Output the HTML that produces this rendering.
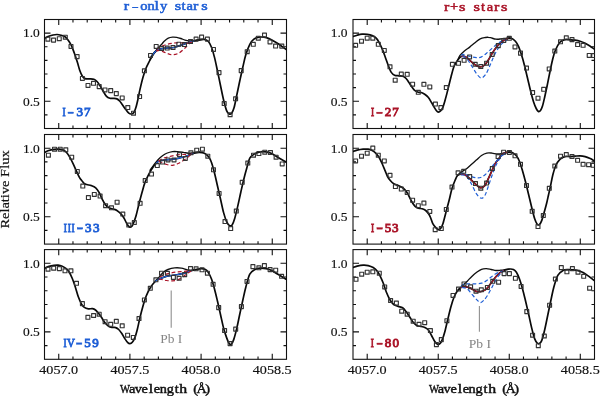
<!DOCTYPE html><html><head><meta charset="utf-8"><style>html,body{margin:0;padding:0;background:#fff;}svg{display:block;will-change:transform;}</style></head><body>
<svg width="600" height="396" viewBox="0 0 600 396">
<rect width="600" height="396" fill="#fff"/>
<path d="M58.74,128.5v-5.6M58.74,19.5v5.6M72.97,128.5v-2.9M72.97,19.5v2.9M87.21,128.5v-2.9M87.21,19.5v2.9M101.44,128.5v-2.9M101.44,19.5v2.9M115.68,128.5v-2.9M115.68,19.5v2.9M129.91,128.5v-5.6M129.91,19.5v5.6M144.15,128.5v-2.9M144.15,19.5v2.9M158.38,128.5v-2.9M158.38,19.5v2.9M172.62,128.5v-2.9M172.62,19.5v2.9M186.85,128.5v-2.9M186.85,19.5v2.9M201.09,128.5v-5.6M201.09,19.5v5.6M215.32,128.5v-2.9M215.32,19.5v2.9M229.56,128.5v-2.9M229.56,19.5v2.9M243.79,128.5v-2.9M243.79,19.5v2.9M258.03,128.5v-2.9M258.03,19.5v2.9M272.26,128.5v-5.6M272.26,19.5v5.6M44.5,114.88h3M286.5,114.88h-3M44.5,101.25h6M286.5,101.25h-6M44.5,87.62h3M286.5,87.62h-3M44.5,74h3M286.5,74h-3M44.5,60.38h3M286.5,60.38h-3M44.5,46.75h3M286.5,46.75h-3M44.5,33.13h6M286.5,33.13h-6" stroke="#111" stroke-width="1.1" fill="none"/>
<rect x="44.5" y="19.5" width="242" height="109" stroke="#111" stroke-width="1.1" fill="none"/>
<path d="M58.74,244.1v-5.6M58.74,134.5v5.6M72.97,244.1v-2.9M72.97,134.5v2.9M87.21,244.1v-2.9M87.21,134.5v2.9M101.44,244.1v-2.9M101.44,134.5v2.9M115.68,244.1v-2.9M115.68,134.5v2.9M129.91,244.1v-5.6M129.91,134.5v5.6M144.15,244.1v-2.9M144.15,134.5v2.9M158.38,244.1v-2.9M158.38,134.5v2.9M172.62,244.1v-2.9M172.62,134.5v2.9M186.85,244.1v-2.9M186.85,134.5v2.9M201.09,244.1v-5.6M201.09,134.5v5.6M215.32,244.1v-2.9M215.32,134.5v2.9M229.56,244.1v-2.9M229.56,134.5v2.9M243.79,244.1v-2.9M243.79,134.5v2.9M258.03,244.1v-2.9M258.03,134.5v2.9M272.26,244.1v-5.6M272.26,134.5v5.6M44.5,230.4h3M286.5,230.4h-3M44.5,216.7h6M286.5,216.7h-6M44.5,203h3M286.5,203h-3M44.5,189.3h3M286.5,189.3h-3M44.5,175.6h3M286.5,175.6h-3M44.5,161.9h3M286.5,161.9h-3M44.5,148.2h6M286.5,148.2h-6" stroke="#111" stroke-width="1.1" fill="none"/>
<rect x="44.5" y="134.5" width="242" height="109.6" stroke="#111" stroke-width="1.1" fill="none"/>
<path d="M58.74,359.3v-5.6M58.74,249.6v5.6M72.97,359.3v-2.9M72.97,249.6v2.9M87.21,359.3v-2.9M87.21,249.6v2.9M101.44,359.3v-2.9M101.44,249.6v2.9M115.68,359.3v-2.9M115.68,249.6v2.9M129.91,359.3v-5.6M129.91,249.6v5.6M144.15,359.3v-2.9M144.15,249.6v2.9M158.38,359.3v-2.9M158.38,249.6v2.9M172.62,359.3v-2.9M172.62,249.6v2.9M186.85,359.3v-2.9M186.85,249.6v2.9M201.09,359.3v-5.6M201.09,249.6v5.6M215.32,359.3v-2.9M215.32,249.6v2.9M229.56,359.3v-2.9M229.56,249.6v2.9M243.79,359.3v-2.9M243.79,249.6v2.9M258.03,359.3v-2.9M258.03,249.6v2.9M272.26,359.3v-5.6M272.26,249.6v5.6M44.5,345.59h3M286.5,345.59h-3M44.5,331.88h6M286.5,331.88h-6M44.5,318.16h3M286.5,318.16h-3M44.5,304.45h3M286.5,304.45h-3M44.5,290.74h3M286.5,290.74h-3M44.5,277.02h3M286.5,277.02h-3M44.5,263.31h6M286.5,263.31h-6" stroke="#111" stroke-width="1.1" fill="none"/>
<rect x="44.5" y="249.6" width="242" height="109.7" stroke="#111" stroke-width="1.1" fill="none"/>
<path d="M367.21,128.5v-5.6M367.21,19.5v5.6M381.41,128.5v-2.9M381.41,19.5v2.9M395.62,128.5v-2.9M395.62,19.5v2.9M409.82,128.5v-2.9M409.82,19.5v2.9M424.03,128.5v-2.9M424.03,19.5v2.9M438.24,128.5v-5.6M438.24,19.5v5.6M452.44,128.5v-2.9M452.44,19.5v2.9M466.65,128.5v-2.9M466.65,19.5v2.9M480.85,128.5v-2.9M480.85,19.5v2.9M495.06,128.5v-2.9M495.06,19.5v2.9M509.26,128.5v-5.6M509.26,19.5v5.6M523.47,128.5v-2.9M523.47,19.5v2.9M537.68,128.5v-2.9M537.68,19.5v2.9M551.88,128.5v-2.9M551.88,19.5v2.9M566.09,128.5v-2.9M566.09,19.5v2.9M580.29,128.5v-5.6M580.29,19.5v5.6M353,114.88h3M594.5,114.88h-3M353,101.25h6M594.5,101.25h-6M353,87.62h3M594.5,87.62h-3M353,74h3M594.5,74h-3M353,60.38h3M594.5,60.38h-3M353,46.75h3M594.5,46.75h-3M353,33.13h6M594.5,33.13h-6" stroke="#111" stroke-width="1.1" fill="none"/>
<rect x="353" y="19.5" width="241.5" height="109" stroke="#111" stroke-width="1.1" fill="none"/>
<path d="M367.21,244.1v-5.6M367.21,134.5v5.6M381.41,244.1v-2.9M381.41,134.5v2.9M395.62,244.1v-2.9M395.62,134.5v2.9M409.82,244.1v-2.9M409.82,134.5v2.9M424.03,244.1v-2.9M424.03,134.5v2.9M438.24,244.1v-5.6M438.24,134.5v5.6M452.44,244.1v-2.9M452.44,134.5v2.9M466.65,244.1v-2.9M466.65,134.5v2.9M480.85,244.1v-2.9M480.85,134.5v2.9M495.06,244.1v-2.9M495.06,134.5v2.9M509.26,244.1v-5.6M509.26,134.5v5.6M523.47,244.1v-2.9M523.47,134.5v2.9M537.68,244.1v-2.9M537.68,134.5v2.9M551.88,244.1v-2.9M551.88,134.5v2.9M566.09,244.1v-2.9M566.09,134.5v2.9M580.29,244.1v-5.6M580.29,134.5v5.6M353,230.4h3M594.5,230.4h-3M353,216.7h6M594.5,216.7h-6M353,203h3M594.5,203h-3M353,189.3h3M594.5,189.3h-3M353,175.6h3M594.5,175.6h-3M353,161.9h3M594.5,161.9h-3M353,148.2h6M594.5,148.2h-6" stroke="#111" stroke-width="1.1" fill="none"/>
<rect x="353" y="134.5" width="241.5" height="109.6" stroke="#111" stroke-width="1.1" fill="none"/>
<path d="M367.21,359.3v-5.6M367.21,249.6v5.6M381.41,359.3v-2.9M381.41,249.6v2.9M395.62,359.3v-2.9M395.62,249.6v2.9M409.82,359.3v-2.9M409.82,249.6v2.9M424.03,359.3v-2.9M424.03,249.6v2.9M438.24,359.3v-5.6M438.24,249.6v5.6M452.44,359.3v-2.9M452.44,249.6v2.9M466.65,359.3v-2.9M466.65,249.6v2.9M480.85,359.3v-2.9M480.85,249.6v2.9M495.06,359.3v-2.9M495.06,249.6v2.9M509.26,359.3v-5.6M509.26,249.6v5.6M523.47,359.3v-2.9M523.47,249.6v2.9M537.68,359.3v-2.9M537.68,249.6v2.9M551.88,359.3v-2.9M551.88,249.6v2.9M566.09,359.3v-2.9M566.09,249.6v2.9M580.29,359.3v-5.6M580.29,249.6v5.6M353,345.59h3M594.5,345.59h-3M353,331.88h6M594.5,331.88h-6M353,318.16h3M594.5,318.16h-3M353,304.45h3M594.5,304.45h-3M353,290.74h3M594.5,290.74h-3M353,277.02h3M594.5,277.02h-3M353,263.31h6M594.5,263.31h-6" stroke="#111" stroke-width="1.1" fill="none"/>
<rect x="353" y="249.6" width="241.5" height="109.7" stroke="#111" stroke-width="1.1" fill="none"/>
<clipPath id="cp0"><rect x="44.5" y="19.5" width="242" height="109"/></clipPath>
<g clip-path="url(#cp0)" fill="none" stroke-linejoin="round" stroke-linecap="round">
<path d="M150,60C150.83,58.67 153.58,54.08 155,52C156.42,49.92 157.38,48.8 158.5,47.5C159.62,46.2 160.75,45.23 161.7,44.2C162.65,43.17 163.1,42.3 164.2,41.3C165.3,40.3 166.92,38.88 168.3,38.2C169.68,37.52 171.1,37.33 172.5,37.2C173.9,37.07 175.32,37.18 176.7,37.4C178.08,37.62 179.42,38.05 180.8,38.5C182.18,38.95 183.63,39.7 185,40.1C186.37,40.5 187.67,40.82 189,40.9C190.33,40.98 191.67,40.75 193,40.6C194.33,40.45 195.5,40.18 197,40C198.5,39.82 201.17,39.58 202,39.5" stroke="#111" stroke-width="1.35"/>
<path d="M40,40.5C40.67,40.22 42.67,39.47 44,38.8C45.33,38.13 46.5,37.13 48,36.5C49.5,35.87 51.5,35.33 53,35C54.5,34.67 55.67,34.47 57,34.5C58.33,34.53 59.67,34.82 61,35.2C62.33,35.58 63.8,35.97 65,36.8C66.2,37.63 67.15,38.78 68.2,40.2C69.25,41.62 70.28,43.17 71.3,45.3C72.32,47.43 73.3,50.22 74.3,53C75.3,55.78 76.38,59.08 77.3,62C78.22,64.92 78.95,68.13 79.8,70.5C80.65,72.87 81.52,74.85 82.4,76.2C83.28,77.55 83.92,78.17 85.1,78.6C86.28,79.03 88.03,78.68 89.5,78.8C90.97,78.92 92.65,78.85 93.9,79.3C95.15,79.75 95.97,80.4 97,81.5C98.03,82.6 99.07,84.28 100.1,85.9C101.13,87.52 102.17,89.5 103.2,91.2C104.23,92.9 105.18,94.92 106.3,96.1C107.42,97.28 108.72,97.92 109.9,98.3C111.08,98.68 112.23,98.3 113.4,98.4C114.57,98.5 115.87,98.47 116.9,98.9C117.93,99.33 118.72,100.07 119.6,101C120.48,101.93 121.17,103.07 122.2,104.5C123.23,105.93 124.7,108.15 125.8,109.6C126.9,111.05 127.88,112.47 128.8,113.2C129.72,113.93 130.45,114.1 131.3,114C132.15,113.9 133.13,113.67 133.9,112.6C134.67,111.53 135.23,109.78 135.9,107.6C136.57,105.42 137.22,102.53 137.9,99.5C138.58,96.47 139.15,93.1 140,89.4C140.85,85.7 142,80.83 143,77.3C144,73.77 144.83,71.08 146,68.2C147.17,65.32 149,62.12 150,60C151,57.88 151,57 152,55.5C153,54 154.67,52.08 156,51C157.33,49.92 158.17,49.5 160,49C161.83,48.5 164.67,48.25 167,48C169.33,47.75 171.83,47.92 174,47.5C176.17,47.08 178,46.17 180,45.5C182,44.83 184.33,44.08 186,43.5C187.67,42.92 188.5,42.45 190,42C191.5,41.55 193.33,41.17 195,40.8C196.67,40.43 198.43,40.03 200,39.8C201.57,39.57 203,39.12 204.4,39.4C205.8,39.68 207.22,40.18 208.4,41.5C209.58,42.82 210.48,44.65 211.5,47.3C212.52,49.95 213.5,53.45 214.5,57.4C215.5,61.35 216.48,66.23 217.5,71C218.52,75.77 219.58,81.17 220.6,86C221.62,90.83 222.6,95.9 223.6,100C224.6,104.1 225.67,108.27 226.6,110.6C227.53,112.93 228.35,113.57 229.2,114C230.05,114.43 230.88,114.27 231.7,113.2C232.52,112.13 233.27,110.55 234.1,107.6C234.93,104.65 235.77,99.88 236.7,95.5C237.63,91.12 238.68,86.02 239.7,81.3C240.72,76.58 241.78,71.62 242.8,67.2C243.82,62.78 244.63,58.62 245.8,54.8C246.97,50.98 248.45,46.9 249.8,44.3C251.15,41.7 252.38,40.38 253.9,39.2C255.42,38.02 257.22,37.53 258.9,37.2C260.58,36.87 262.32,36.97 264,37.2C265.68,37.43 267.33,37.93 269,38.6C270.67,39.27 272.33,40.25 274,41.2C275.67,42.15 277,42.95 279,44.3C281,45.65 284.17,48.02 286,49.3C287.83,50.58 289.33,51.55 290,52" stroke="#0a0a0a" stroke-width="1.7"/>
<path d="M152,55.5C152.67,54.75 154.67,52.08 156,51C157.33,49.92 158.17,49.5 160,49C161.83,48.5 164.67,48.25 167,48C169.33,47.75 171.83,47.92 174,47.5C176.17,47.08 178,46.17 180,45.5C182,44.83 184.33,44.08 186,43.5C187.67,42.92 188.67,42.42 190,42C191.33,41.58 193.33,41.17 194,41" stroke="#1f5fd6" stroke-width="1.2"/>
<path d="M157,49.5C157.67,49 159.33,47.37 161,46.5C162.67,45.63 164.83,44.88 167,44.3C169.17,43.72 171.83,43.28 174,43C176.17,42.72 178.17,42.55 180,42.6C181.83,42.65 183.5,43.2 185,43.3C186.5,43.4 187.83,43.37 189,43.2C190.17,43.03 191.5,42.45 192,42.3" stroke="#aa1428" stroke-width="1.2" stroke-dasharray="3.8,2.4" stroke-linecap="butt"/>
<path d="M156,51C156.67,50.92 158.33,50.17 160,50.5C161.67,50.83 164,52.28 166,53C168,53.72 170,54.72 172,54.8C174,54.88 176.17,54.3 178,53.5C179.83,52.7 181.5,51.25 183,50C184.5,48.75 185.83,47.17 187,46C188.17,44.83 189.17,43.67 190,43C190.83,42.33 191.67,42.17 192,42" stroke="#aa1428" stroke-width="1.2" stroke-dasharray="3.8,2.4" stroke-linecap="butt"/>
<path d="M45.95,37.25h3.9v3.9h-3.9zM51.6,38.15h3.9v3.9h-3.9zM57.3,36.75h3.9v3.9h-3.9zM63.35,35.25h3.9v3.9h-3.9zM69.05,44.45h3.9v3.9h-3.9zM75.15,54.65h3.9v3.9h-3.9zM80.45,76.45h3.9v3.9h-3.9zM86.05,83.45h3.9v3.9h-3.9zM91.55,81.35h3.9v3.9h-3.9zM97.25,84.65h3.9v3.9h-3.9zM103.05,87.95h3.9v3.9h-3.9zM108.75,88.65h3.9v3.9h-3.9zM114.35,91.65h3.9v3.9h-3.9zM120.25,95.95h3.9v3.9h-3.9zM125.85,105.55h3.9v3.9h-3.9zM131.55,111.25h3.9v3.9h-3.9zM137.65,94.55h3.9v3.9h-3.9zM142.45,68.85h3.9v3.9h-3.9zM148.55,53.45h3.9v3.9h-3.9zM154.25,44.45h3.9v3.9h-3.9zM159.55,46.55h3.9v3.9h-3.9zM165.25,46.05h3.9v3.9h-3.9zM171.05,45.55h3.9v3.9h-3.9zM176.85,42.25h3.9v3.9h-3.9zM182.55,42.55h3.9v3.9h-3.9zM188.55,39.55h3.9v3.9h-3.9zM194.15,37.15h3.9v3.9h-3.9zM199.65,35.15h3.9v3.9h-3.9zM205.45,37.15h3.9v3.9h-3.9zM211.55,47.45h3.9v3.9h-3.9zM217.05,70.65h3.9v3.9h-3.9zM222.25,101.55h3.9v3.9h-3.9zM228.15,112.75h3.9v3.9h-3.9zM233.65,96.85h3.9v3.9h-3.9zM239.25,68.65h3.9v3.9h-3.9zM245.25,49.75h3.9v3.9h-3.9zM251.35,42.35h3.9v3.9h-3.9zM256.35,36.25h3.9v3.9h-3.9zM262.55,33.15h3.9v3.9h-3.9zM268.05,39.95h3.9v3.9h-3.9zM273.65,44.05h3.9v3.9h-3.9zM279.85,44.15h3.9v3.9h-3.9z" stroke="#333" stroke-width="1.15" fill="none"/>
</g>
<g font-family="Liberation Serif" font-size="13" fill="#1f5fd6" stroke="#1f5fd6" stroke-width="0.9"><text transform="translate(62.42,116.2) scale(0.72,1)">I</text><rect x="67.95" y="112.05" width="5.6" height="1.5" stroke-width="0.4"/><text x="76.55" y="116.2">3</text><text x="84.05" y="116.2">7</text></g>
<clipPath id="cp1"><rect x="44.5" y="134.5" width="242" height="109.6"/></clipPath>
<g clip-path="url(#cp1)" fill="none" stroke-linejoin="round" stroke-linecap="round">
<path d="M150,170.3C150.7,169.33 152.82,166.3 154.2,164.5C155.58,162.7 156.92,160.96 158.3,159.5C159.68,158.04 161.1,156.79 162.5,155.75C163.9,154.71 165.03,153.94 166.7,153.25C168.37,152.56 170.7,151.88 172.5,151.6C174.3,151.32 175.7,151.47 177.5,151.6C179.3,151.73 181.5,152.12 183.3,152.4C185.1,152.68 186.63,153.18 188.3,153.25C189.97,153.32 191.35,153.01 193.3,152.8C195.25,152.59 198.88,152.13 200,152" stroke="#111" stroke-width="1.35"/>
<path d="M40,154C40.67,153.77 42.67,153.13 44,152.6C45.33,152.07 46.32,151.33 48,150.8C49.68,150.27 52.23,149.67 54.1,149.4C55.97,149.13 57.52,149 59.2,149.2C60.88,149.4 62.87,149.93 64.2,150.6C65.53,151.27 66.18,151.93 67.2,153.2C68.22,154.47 69.28,156.37 70.3,158.2C71.32,160.03 72.3,162.1 73.3,164.2C74.3,166.3 75.28,168.6 76.3,170.8C77.32,173 78.53,175.83 79.4,177.4C80.27,178.97 80.55,179.1 81.5,180.2C82.45,181.3 83.47,183.1 85.1,184C86.73,184.9 89.53,184.97 91.3,185.6C93.07,186.23 94.38,186.63 95.7,187.8C97.02,188.97 98.1,190.68 99.2,192.6C100.3,194.52 101.27,197.3 102.3,199.3C103.33,201.3 104.28,203.18 105.4,204.6C106.52,206.02 107.67,207.05 109,207.8C110.33,208.55 112.08,208.67 113.4,209.1C114.72,209.53 115.72,209.68 116.9,210.4C118.08,211.12 119.35,212.17 120.5,213.4C121.65,214.63 122.75,216.1 123.8,217.8C124.85,219.5 125.97,222.15 126.8,223.6C127.63,225.05 128.12,225.93 128.8,226.5C129.48,227.07 130.22,227.32 130.9,227C131.58,226.68 132.07,226.38 132.9,224.6C133.73,222.82 134.9,219.7 135.9,216.3C136.9,212.9 137.88,208.17 138.9,204.2C139.92,200.23 140.98,196.13 142,192.5C143.02,188.87 143.83,185.52 145,182.4C146.17,179.28 147.65,176.37 149,173.8C150.35,171.23 151.93,168.72 153.1,167C154.27,165.28 155.13,164.42 156,163.5C156.87,162.58 156.85,162.08 158.3,161.5C159.75,160.92 162.53,160.37 164.7,160C166.87,159.63 169.08,159.58 171.3,159.3C173.52,159.02 175.77,158.73 178,158.3C180.23,157.87 182.82,157.25 184.7,156.7C186.58,156.15 187.75,155.58 189.3,155C190.85,154.42 192.33,153.63 194,153.2C195.67,152.77 197.57,152.4 199.3,152.4C201.03,152.4 202.88,152.5 204.4,153.2C205.92,153.9 207.22,155.05 208.4,156.6C209.58,158.15 210.48,159.77 211.5,162.5C212.52,165.23 213.5,169.08 214.5,173C215.5,176.92 216.48,181.58 217.5,186C218.52,190.42 219.58,195.07 220.6,199.5C221.62,203.93 222.6,208.92 223.6,212.6C224.6,216.28 225.6,219.43 226.6,221.6C227.6,223.77 228.68,225.03 229.6,225.6C230.52,226.17 231.25,226.18 232.1,225C232.95,223.82 233.77,221.6 234.7,218.5C235.63,215.4 236.68,210.77 237.7,206.4C238.72,202.03 239.78,196.83 240.8,192.3C241.82,187.77 242.8,183.25 243.8,179.2C244.8,175.15 245.8,171.5 246.8,168C247.8,164.5 248.45,160.6 249.8,158.2C251.15,155.8 253.2,154.67 254.9,153.6C256.6,152.53 258.15,152.1 260,151.8C261.85,151.5 264.15,151.57 266,151.8C267.85,152.03 269.42,152.47 271.1,153.2C272.78,153.93 274.42,155.18 276.1,156.2C277.78,157.22 279.55,158.35 281.2,159.3C282.85,160.25 284.53,161.12 286,161.9C287.47,162.68 289.33,163.65 290,164" stroke="#0a0a0a" stroke-width="1.7"/>
<path d="M156,163.5C156.38,163.17 156.85,162.08 158.3,161.5C159.75,160.92 162.53,160.37 164.7,160C166.87,159.63 169.08,159.58 171.3,159.3C173.52,159.02 175.77,158.73 178,158.3C180.23,157.87 182.82,157.25 184.7,156.7C186.58,156.15 187.92,155.55 189.3,155C190.68,154.45 192.38,153.67 193,153.4" stroke="#1f5fd6" stroke-width="1.2"/>
<path d="M158.5,161C159.25,160.55 161.58,158.93 163,158.3C164.42,157.67 165.42,157.6 167,157.2C168.58,156.8 170.47,156.33 172.5,155.9C174.53,155.47 177.12,154.83 179.2,154.6C181.28,154.37 183.33,154.5 185,154.5C186.67,154.5 188.03,154.72 189.2,154.6C190.37,154.48 191.53,153.93 192,153.8" stroke="#aa1428" stroke-width="1.2" stroke-dasharray="3.8,2.4" stroke-linecap="butt"/>
<path d="M159,161.5C159.45,161.72 160.42,162.3 161.7,162.8C162.98,163.3 164.9,164.08 166.7,164.5C168.5,164.92 170.7,165.42 172.5,165.3C174.3,165.18 175.97,164.42 177.5,163.8C179.03,163.18 180.17,162.53 181.7,161.6C183.23,160.67 185.32,159.3 186.7,158.25C188.08,157.2 189.12,156.01 190,155.3C190.88,154.59 191.67,154.22 192,154" stroke="#aa1428" stroke-width="1.2" stroke-dasharray="3.8,2.4" stroke-linecap="butt"/>
<path d="M46.45,153.25h3.9v3.9h-3.9zM52.55,147.25h3.9v3.9h-3.9zM58.25,147.25h3.9v3.9h-3.9zM63.85,147.85h3.9v3.9h-3.9zM69.75,155.25h3.9v3.9h-3.9zM75.35,169.45h3.9v3.9h-3.9zM80.85,184.15h3.9v3.9h-3.9zM86.45,195.55h3.9v3.9h-3.9zM92.35,192.45h3.9v3.9h-3.9zM98.15,194.05h3.9v3.9h-3.9zM103.65,203.75h3.9v3.9h-3.9zM109.55,205.85h3.9v3.9h-3.9zM115.15,200.25h3.9v3.9h-3.9zM120.85,212.05h3.9v3.9h-3.9zM126.85,223.05h3.9v3.9h-3.9zM132.35,220.65h3.9v3.9h-3.9zM138.15,201.35h3.9v3.9h-3.9zM143.25,178.55h3.9v3.9h-3.9zM149.55,172.05h3.9v3.9h-3.9zM155.35,163.55h3.9v3.9h-3.9zM160.55,160.05h3.9v3.9h-3.9zM166.05,157.95h3.9v3.9h-3.9zM172.05,157.95h3.9v3.9h-3.9zM177.55,152.65h3.9v3.9h-3.9zM183.35,156.45h3.9v3.9h-3.9zM188.95,150.85h3.9v3.9h-3.9zM194.75,148.25h3.9v3.9h-3.9zM200.45,147.25h3.9v3.9h-3.9zM205.85,154.25h3.9v3.9h-3.9zM211.55,167.85h3.9v3.9h-3.9zM217.15,191.45h3.9v3.9h-3.9zM223.05,219.65h3.9v3.9h-3.9zM228.75,226.65h3.9v3.9h-3.9zM234.35,209.05h3.9v3.9h-3.9zM240.25,180.35h3.9v3.9h-3.9zM245.85,161.05h3.9v3.9h-3.9zM251.55,153.25h3.9v3.9h-3.9zM256.95,151.65h3.9v3.9h-3.9zM262.85,150.25h3.9v3.9h-3.9zM268.55,150.65h3.9v3.9h-3.9zM274.15,155.25h3.9v3.9h-3.9zM280.25,161.95h3.9v3.9h-3.9z" stroke="#333" stroke-width="1.15" fill="none"/>
</g>
<g font-family="Liberation Serif" font-size="13" fill="#1f5fd6" stroke="#1f5fd6" stroke-width="0.9"><text transform="translate(63.72,231.8) scale(0.72,1)">I</text><text transform="translate(67.82,231.8) scale(0.72,1)">I</text><text transform="translate(71.52,231.8) scale(0.72,1)">I</text><rect x="77.2" y="227.65" width="5.6" height="1.5" stroke-width="0.4"/><text x="85.1" y="231.8">3</text><text x="92.9" y="231.8">3</text></g>
<clipPath id="cp2"><rect x="44.5" y="249.6" width="242" height="109.7"/></clipPath>
<g clip-path="url(#cp2)" fill="none" stroke-linejoin="round" stroke-linecap="round">
<path d="M155.1,281.5C155.63,280.92 156.93,279.53 158.3,278C159.67,276.47 161.68,273.72 163.3,272.3C164.92,270.88 166.1,270.23 168,269.5C169.9,268.77 172.48,268.13 174.7,267.9C176.92,267.67 179.3,267.8 181.3,268.1C183.3,268.4 185.17,269.3 186.7,269.7C188.23,270.1 189.07,270.48 190.5,270.5C191.93,270.52 194.5,269.92 195.3,269.8" stroke="#111" stroke-width="1.35"/>
<path d="M40,270.3C40.67,270.02 42.48,269.25 44,268.6C45.52,267.95 47.42,266.93 49.1,266.4C50.78,265.87 52.6,265.6 54.1,265.4C55.6,265.2 56.75,265.07 58.1,265.2C59.45,265.33 60.85,265.63 62.2,266.2C63.55,266.77 65.02,267.6 66.2,268.6C67.38,269.6 68.28,270.55 69.3,272.2C70.32,273.85 71.3,276.03 72.3,278.5C73.3,280.97 74.3,283.95 75.3,287C76.3,290.05 77.28,294 78.3,296.8C79.32,299.6 80.38,302.03 81.4,303.8C82.42,305.57 83.23,306.57 84.4,307.4C85.57,308.23 87.05,308.58 88.4,308.8C89.75,309.02 91.32,308.5 92.5,308.7C93.68,308.9 94.5,309.23 95.5,310C96.5,310.77 97.48,312.03 98.5,313.3C99.52,314.57 100.58,316.1 101.6,317.6C102.62,319.1 103.43,320.83 104.6,322.3C105.77,323.77 107.25,325.55 108.6,326.4C109.95,327.25 111.52,327.2 112.7,327.4C113.88,327.6 114.7,327.25 115.7,327.6C116.7,327.95 117.68,328.52 118.7,329.5C119.72,330.48 120.78,331.98 121.8,333.5C122.82,335.02 123.8,337.08 124.8,338.6C125.8,340.12 126.95,341.77 127.8,342.6C128.65,343.43 129.15,343.67 129.9,343.6C130.65,343.53 131.47,343.2 132.3,342.2C133.13,341.2 134.07,339.72 134.9,337.6C135.73,335.48 136.45,332.85 137.3,329.5C138.15,326.15 139.05,321.42 140,317.5C140.95,313.58 142,309.5 143,306C144,302.5 144.82,299.5 146,296.5C147.18,293.5 148.58,290.5 150.1,288C151.62,285.5 153.78,282.92 155.1,281.5C156.42,280.08 156.4,280.27 158,279.5C159.6,278.73 162.48,277.57 164.7,276.9C166.92,276.23 169.08,275.9 171.3,275.5C173.52,275.1 175.77,274.9 178,274.5C180.23,274.1 182.82,273.65 184.7,273.1C186.58,272.55 188,271.68 189.3,271.2C190.6,270.72 191.5,270.45 192.5,270.2C193.5,269.95 193.82,269.97 195.3,269.7C196.78,269.43 199.72,268.62 201.4,268.6C203.08,268.58 204.23,268.93 205.4,269.6C206.57,270.27 207.38,271.03 208.4,272.6C209.42,274.17 210.48,276.27 211.5,279C212.52,281.73 213.5,285.28 214.5,289C215.5,292.72 216.48,296.97 217.5,301.3C218.52,305.63 219.58,310.52 220.6,315C221.62,319.48 222.6,324.43 223.6,328.2C224.6,331.97 225.67,335.03 226.6,337.6C227.53,340.17 228.42,342.5 229.2,343.6C229.98,344.7 230.55,344.87 231.3,344.2C232.05,343.53 232.8,342.2 233.7,339.6C234.6,337 235.7,332.78 236.7,328.6C237.7,324.42 238.68,319.22 239.7,314.5C240.72,309.78 241.78,304.85 242.8,300.3C243.82,295.75 244.63,291.55 245.8,287.2C246.97,282.85 248.28,277.13 249.8,274.2C251.32,271.27 253.2,270.6 254.9,269.6C256.6,268.6 258.15,268.37 260,268.2C261.85,268.03 264.15,268.27 266,268.6C267.85,268.93 269.42,269.43 271.1,270.2C272.78,270.97 274.42,272.18 276.1,273.2C277.78,274.22 279.55,275.28 281.2,276.3C282.85,277.32 284.53,278.43 286,279.3C287.47,280.17 289.33,281.13 290,281.5" stroke="#0a0a0a" stroke-width="1.7"/>
<path d="M155.1,281.5C155.58,281.17 156.4,280.27 158,279.5C159.6,278.73 162.48,277.57 164.7,276.9C166.92,276.23 169.08,275.9 171.3,275.5C173.52,275.1 175.77,274.9 178,274.5C180.23,274.1 182.82,273.65 184.7,273.1C186.58,272.55 188,271.68 189.3,271.2C190.6,270.72 191.97,270.37 192.5,270.2" stroke="#1f5fd6" stroke-width="1.2"/>
<path d="M160,277C160.7,276.63 162.53,275.43 164.2,274.8C165.87,274.17 167.92,273.68 170,273.2C172.08,272.72 174.48,272.2 176.7,271.9C178.92,271.6 181.37,271.57 183.3,271.4C185.23,271.23 187.02,271.08 188.3,270.9C189.58,270.72 190.55,270.4 191,270.3" stroke="#aa1428" stroke-width="1.2" stroke-dasharray="3.8,2.4" stroke-linecap="butt"/>
<path d="M159,279C159.58,279.12 161.22,279.45 162.5,279.7C163.78,279.95 165.03,280.3 166.7,280.5C168.37,280.7 170.7,280.97 172.5,280.9C174.3,280.83 175.83,280.72 177.5,280.1C179.17,279.48 180.97,278.25 182.5,277.2C184.03,276.15 185.45,274.71 186.7,273.8C187.95,272.89 189.12,272.3 190,271.75C190.88,271.2 191.67,270.71 192,270.5" stroke="#aa1428" stroke-width="1.2" stroke-dasharray="3.8,2.4" stroke-linecap="butt"/>
<path d="M46.05,267.25h3.9v3.9h-3.9zM51.75,266.25h3.9v3.9h-3.9zM57.45,266.65h3.9v3.9h-3.9zM63.05,268.85h3.9v3.9h-3.9zM68.95,268.85h3.9v3.9h-3.9zM74.55,281.35h3.9v3.9h-3.9zM80.45,301.65h3.9v3.9h-3.9zM85.95,315.35h3.9v3.9h-3.9zM91.65,313.55h3.9v3.9h-3.9zM97.25,312.25h3.9v3.9h-3.9zM103.15,319.75h3.9v3.9h-3.9zM108.75,322.35h3.9v3.9h-3.9zM114.35,319.35h3.9v3.9h-3.9zM120.25,323.85h3.9v3.9h-3.9zM125.65,333.25h3.9v3.9h-3.9zM131.35,335.45h3.9v3.9h-3.9zM137.05,316.55h3.9v3.9h-3.9zM142.45,297.95h3.9v3.9h-3.9zM148.35,286.35h3.9v3.9h-3.9zM153.95,277.85h3.9v3.9h-3.9zM159.55,271.25h3.9v3.9h-3.9zM165.45,271.35h3.9v3.9h-3.9zM171.45,275.45h3.9v3.9h-3.9zM177.15,276.35h3.9v3.9h-3.9zM182.75,272.65h3.9v3.9h-3.9zM188.55,266.55h3.9v3.9h-3.9zM194.15,266.85h3.9v3.9h-3.9zM200.05,267.85h3.9v3.9h-3.9zM205.45,271.25h3.9v3.9h-3.9zM211.15,282.35h3.9v3.9h-3.9zM216.75,305.65h3.9v3.9h-3.9zM222.65,328.55h3.9v3.9h-3.9zM228.15,341.65h3.9v3.9h-3.9zM233.75,327.15h3.9v3.9h-3.9zM239.45,304.65h3.9v3.9h-3.9zM245.05,279.45h3.9v3.9h-3.9zM250.95,264.65h3.9v3.9h-3.9zM256.95,265.85h3.9v3.9h-3.9zM262.45,263.65h3.9v3.9h-3.9zM268.15,267.65h3.9v3.9h-3.9zM273.75,268.25h3.9v3.9h-3.9zM279.65,274.35h3.9v3.9h-3.9z" stroke="#333" stroke-width="1.15" fill="none"/>
</g>
<g font-family="Liberation Serif" font-size="13" fill="#1f5fd6" stroke="#1f5fd6" stroke-width="0.9"><text transform="translate(63.52,347) scale(0.72,1)">I</text><text transform="translate(67.12,347) scale(0.84,1)">V</text><rect x="76.3" y="342.85" width="5.6" height="1.5" stroke-width="0.4"/><text x="84.2" y="347">5</text><text x="92.2" y="347">9</text></g>
<clipPath id="cp3"><rect x="353" y="19.5" width="241.5" height="109"/></clipPath>
<g clip-path="url(#cp3)" fill="none" stroke-linejoin="round" stroke-linecap="round">
<path d="M458.1,59.5C458.38,58.85 458.75,57.02 459.8,55.6C460.85,54.18 462.75,52.42 464.4,51C466.05,49.58 467.93,48.48 469.7,47.1C471.47,45.72 473.25,44.08 475,42.7C476.75,41.32 478.45,39.67 480.2,38.8C481.95,37.93 484.2,37.75 485.5,37.5C486.8,37.25 487.13,37.27 488,37.3C488.87,37.33 489.37,37.38 490.7,37.7C492.03,38.02 494.25,39 496,39.2C497.75,39.4 499.45,39.08 501.2,38.9C502.95,38.72 505.03,38.25 506.5,38.1C507.97,37.95 509.42,38.02 510,38" stroke="#111" stroke-width="1.35"/>
<path d="M348,38C348.67,37.8 350.48,37.27 352,36.8C353.52,36.33 355.42,35.63 357.1,35.2C358.78,34.77 360.42,34.33 362.1,34.2C363.78,34.07 365.52,34.17 367.2,34.4C368.88,34.63 370.7,34.97 372.2,35.6C373.7,36.23 375.02,37 376.2,38.2C377.38,39.4 378.28,40.97 379.3,42.8C380.32,44.63 381.3,46.8 382.3,49.2C383.3,51.6 384.28,54.43 385.3,57.2C386.32,59.97 387.43,63.32 388.4,65.8C389.37,68.28 390.07,70.53 391.1,72.1C392.13,73.67 393.28,74.58 394.6,75.2C395.92,75.82 397.67,75.62 399,75.8C400.33,75.98 401.57,76 402.6,76.3C403.63,76.6 404.32,76.83 405.2,77.6C406.08,78.37 407.02,79.68 407.9,80.9C408.78,82.12 409.47,83.42 410.5,84.9C411.53,86.38 412.92,88.62 414.1,89.8C415.28,90.98 416.42,91.55 417.6,92C418.78,92.45 420.02,92.13 421.2,92.5C422.38,92.87 423.53,93.4 424.7,94.2C425.87,95 427.07,95.92 428.2,97.3C429.33,98.68 430.62,101.05 431.5,102.5C432.38,103.95 432.7,104.67 433.5,106C434.3,107.33 435.48,109.48 436.3,110.5C437.12,111.52 437.65,112.07 438.4,112.1C439.15,112.13 440.07,111.45 440.8,110.7C441.53,109.95 442.13,109.18 442.8,107.6C443.47,106.02 444.13,103.48 444.8,101.2C445.47,98.92 446.13,96.47 446.8,93.9C447.47,91.33 448.1,88.62 448.8,85.8C449.5,82.98 450.13,80.22 451,77C451.87,73.78 452.82,69.42 454,66.5C455.18,63.58 456.8,61.2 458.1,59.5C459.4,57.8 460.52,56.73 461.8,56.3C463.08,55.87 464.37,56.13 465.8,56.9C467.23,57.67 468.87,59.58 470.4,60.9C471.93,62.22 473.37,63.78 475,64.8C476.63,65.82 478.57,67 480.2,67C481.83,67 483.38,66.05 484.8,64.8C486.22,63.55 487.5,61.37 488.7,59.5C489.9,57.63 490.78,55.57 492,53.6C493.22,51.63 494.68,49.45 496,47.7C497.32,45.95 498.6,44.35 499.9,43.1C501.2,41.85 502.57,40.97 503.8,40.2C505.03,39.43 506.03,38.83 507.3,38.5C508.57,38.17 510.05,37.75 511.4,38.2C512.75,38.65 514.22,39.85 515.4,41.2C516.58,42.55 517.48,44.03 518.5,46.3C519.52,48.57 520.5,51.6 521.5,54.8C522.5,58 523.5,61.63 524.5,65.5C525.5,69.37 526.48,73.75 527.5,78C528.52,82.25 529.58,87 530.6,91C531.62,95 532.67,99.08 533.6,102C534.53,104.92 535.42,106.93 536.2,108.5C536.98,110.07 537.58,111.08 538.3,111.4C539.02,111.72 539.8,111.3 540.5,110.4C541.2,109.5 541.8,108.23 542.5,106C543.2,103.77 543.92,100.42 544.7,97C545.48,93.58 546.35,89.58 547.2,85.5C548.05,81.42 548.92,76.75 549.8,72.5C550.68,68.25 551.58,63.67 552.5,60C553.42,56.33 554.07,53.47 555.3,50.5C556.53,47.53 558.3,44.02 559.9,42.2C561.5,40.38 563.22,40 564.9,39.6C566.58,39.2 568.32,39.7 570,39.8C571.68,39.9 573.32,39.97 575,40.2C576.68,40.43 578.42,40.7 580.1,41.2C581.78,41.7 583.42,42.35 585.1,43.2C586.78,44.05 588.72,45.35 590.2,46.3C591.68,47.25 592.7,48.03 594,48.9C595.3,49.77 597.33,51.07 598,51.5" stroke="#0a0a0a" stroke-width="1.7"/>
<path d="M461.8,56.3C462.47,56.4 464.37,56.13 465.8,56.9C467.23,57.67 468.87,59.58 470.4,60.9C471.93,62.22 473.37,63.78 475,64.8C476.63,65.82 478.57,67 480.2,67C481.83,67 483.38,66.05 484.8,64.8C486.22,63.55 487.5,61.37 488.7,59.5C489.9,57.63 490.78,55.57 492,53.6C493.22,51.63 494.68,49.45 496,47.7C497.32,45.95 498.6,44.3 499.9,43.1C501.2,41.9 502.48,41.27 503.8,40.5C505.12,39.73 507.13,38.83 507.8,38.5" stroke="#aa1428" stroke-width="1.2"/>
<path d="M461.5,55.5C461.77,55.3 461.73,54.17 463.1,54.3C464.47,54.43 467.5,55.75 469.7,56.3C471.9,56.85 474.33,57.5 476.3,57.6C478.27,57.7 479.75,57.67 481.5,56.9C483.25,56.13 485.05,54.42 486.8,53C488.55,51.58 490.25,49.93 492,48.4C493.75,46.87 495.55,45.12 497.3,43.8C499.05,42.48 501.22,41.22 502.5,40.5C503.78,39.78 504.58,39.67 505,39.5" stroke="#1f5fd6" stroke-width="1.2" stroke-dasharray="3.8,2.4" stroke-linecap="butt"/>
<path d="M462.5,56.5C463.05,56.68 464.38,56.22 465.8,57.6C467.22,58.98 469.25,62.18 471,64.8C472.75,67.42 474.65,71.12 476.3,73.3C477.95,75.48 479.37,77.68 480.9,77.9C482.43,78.12 484.08,76.45 485.5,74.6C486.92,72.75 488.1,69.63 489.4,66.8C490.7,63.97 491.98,60.45 493.3,57.6C494.62,54.75 495.98,51.9 497.3,49.7C498.62,47.5 499.88,45.82 501.2,44.4C502.52,42.98 504.23,41.93 505.2,41.2C506.17,40.47 506.7,40.2 507,40" stroke="#1f5fd6" stroke-width="1.2" stroke-dasharray="3.8,2.4" stroke-linecap="butt"/>
<path d="M353.65,43.35h3.9v3.9h-3.9zM359.55,39.25h3.9v3.9h-3.9zM365.25,36.25h3.9v3.9h-3.9zM370.85,36.25h3.9v3.9h-3.9zM376.35,42.35h3.9v3.9h-3.9zM382.35,48.45h3.9v3.9h-3.9zM388.05,64.85h3.9v3.9h-3.9zM393.25,78.25h3.9v3.9h-3.9zM399.35,72.15h3.9v3.9h-3.9zM405.25,72.35h3.9v3.9h-3.9zM410.65,82.25h3.9v3.9h-3.9zM416.35,90.35h3.9v3.9h-3.9zM421.95,82.35h3.9v3.9h-3.9zM427.85,84.95h3.9v3.9h-3.9zM433.45,102.05h3.9v3.9h-3.9zM438.95,105.65h3.9v3.9h-3.9zM444.35,85.55h3.9v3.9h-3.9zM450.45,62.35h3.9v3.9h-3.9zM456.55,61.35h3.9v3.9h-3.9zM462.15,58.35h3.9v3.9h-3.9zM467.65,54.95h3.9v3.9h-3.9zM473.25,62.35h3.9v3.9h-3.9zM478.85,64.55h3.9v3.9h-3.9zM484.65,61.25h3.9v3.9h-3.9zM490.25,52.45h3.9v3.9h-3.9zM496.35,43.65h3.9v3.9h-3.9zM501.85,38.45h3.9v3.9h-3.9zM507.35,36.35h3.9v3.9h-3.9zM513.05,44.95h3.9v3.9h-3.9zM518.55,51.15h3.9v3.9h-3.9zM524.55,66.05h3.9v3.9h-3.9zM530.65,90.55h3.9v3.9h-3.9zM536.05,96.25h3.9v3.9h-3.9zM541.75,87.35h3.9v3.9h-3.9zM547.25,66.95h3.9v3.9h-3.9zM552.85,49.05h3.9v3.9h-3.9zM558.55,39.85h3.9v3.9h-3.9zM564.35,35.85h3.9v3.9h-3.9zM570.05,37.65h3.9v3.9h-3.9zM575.65,42.55h3.9v3.9h-3.9zM581.15,43.35h3.9v3.9h-3.9zM587.25,53.45h3.9v3.9h-3.9zM591.75,53.55h3.9v3.9h-3.9z" stroke="#333" stroke-width="1.15" fill="none"/>
</g>
<g font-family="Liberation Serif" font-size="13" fill="#aa1428" stroke="#aa1428" stroke-width="0.9"><text transform="translate(370.92,116.3) scale(0.72,1)">I</text><rect x="376.8" y="112.15" width="5.6" height="1.5" stroke-width="0.4"/><text x="384.7" y="116.3">2</text><text x="392.2" y="116.3">7</text></g>
<clipPath id="cp4"><rect x="353" y="134.5" width="241.5" height="109.6"/></clipPath>
<g clip-path="url(#cp4)" fill="none" stroke-linejoin="round" stroke-linecap="round">
<path d="M457.5,175.5C458,175.02 459.12,173.63 460.5,172.6C461.88,171.57 464.05,170.62 465.8,169.3C467.55,167.98 469.25,166.23 471,164.7C472.75,163.17 474.55,161.63 476.3,160.1C478.05,158.57 479.75,156.67 481.5,155.5C483.25,154.33 485.05,153.5 486.8,153.1C488.55,152.7 490.25,152.95 492,153.1C493.75,153.25 495.55,153.93 497.3,154C499.05,154.07 500.88,153.77 502.5,153.5C504.12,153.23 505.75,152.62 507,152.4C508.25,152.18 509.5,152.23 510,152.2" stroke="#111" stroke-width="1.35"/>
<path d="M348,153C348.67,152.8 350.48,152.27 352,151.8C353.52,151.33 355.25,150.63 357.1,150.2C358.95,149.77 361.25,149.37 363.1,149.2C364.95,149.03 366.68,148.97 368.2,149.2C369.72,149.43 370.87,149.87 372.2,150.6C373.53,151.33 375.02,152.4 376.2,153.6C377.38,154.8 378.28,156.07 379.3,157.8C380.32,159.53 381.3,161.77 382.3,164C383.3,166.23 384.43,169.12 385.3,171.2C386.17,173.28 386.67,174.95 387.5,176.5C388.33,178.05 389.25,179.28 390.3,180.5C391.35,181.72 392.47,182.95 393.8,183.8C395.13,184.65 396.82,184.93 398.3,185.6C399.78,186.27 401.38,186.85 402.7,187.8C404.02,188.75 405.17,189.93 406.2,191.3C407.23,192.67 408.02,194.35 408.9,196C409.78,197.65 410.47,199.48 411.5,201.2C412.53,202.92 413.92,205.13 415.1,206.3C416.28,207.47 417.42,207.78 418.6,208.2C419.78,208.62 421.02,208.42 422.2,208.8C423.38,209.18 424.67,209.7 425.7,210.5C426.73,211.3 427.6,212.43 428.4,213.6C429.2,214.77 429.77,215.83 430.5,217.5C431.23,219.17 431.92,221.92 432.8,223.6C433.68,225.28 434.88,226.6 435.8,227.6C436.72,228.6 437.5,229.43 438.3,229.6C439.1,229.77 439.82,229.62 440.6,228.6C441.38,227.58 442.12,226.18 443,223.5C443.88,220.82 444.9,216.28 445.9,212.5C446.9,208.72 447.98,204.8 449,200.8C450.02,196.8 451,191.88 452,188.5C453,185.12 454.08,182.67 455,180.5C455.92,178.33 456.58,176.55 457.5,175.5C458.42,174.45 459.35,174.37 460.5,174.2C461.65,174.03 462.87,173.78 464.4,174.5C465.93,175.22 467.93,176.97 469.7,178.5C471.47,180.03 473.25,182.17 475,183.7C476.75,185.23 478.57,187.37 480.2,187.7C481.83,188.03 483.48,187.13 484.8,185.7C486.12,184.27 487,181.4 488.1,179.1C489.2,176.8 490.32,174.3 491.4,171.9C492.48,169.5 493.4,166.88 494.6,164.7C495.8,162.52 497.28,160.55 498.6,158.8C499.92,157.05 501.18,155.27 502.5,154.2C503.82,153.13 505.25,152.73 506.5,152.4C507.75,152.07 508.92,152.1 510,152.2C511.08,152.3 511.93,152.4 513,153C514.07,153.6 515.32,154.38 516.4,155.8C517.48,157.22 518.48,159 519.5,161.5C520.52,164 521.5,167.42 522.5,170.8C523.5,174.18 524.48,177.85 525.5,181.8C526.52,185.75 527.58,190.3 528.6,194.5C529.62,198.7 530.6,203 531.6,207C532.6,211 533.67,215.63 534.6,218.5C535.53,221.37 536.42,223.18 537.2,224.2C537.98,225.22 538.55,225.2 539.3,224.6C540.05,224 540.8,222.95 541.7,220.6C542.6,218.25 543.87,213.43 544.7,210.5C545.53,207.57 546.07,205.58 546.7,203C547.33,200.42 547.9,197.67 548.5,195C549.1,192.33 549.58,190.33 550.3,187C551.02,183.67 551.88,178.58 552.8,175C553.72,171.42 554.62,168.12 555.8,165.5C556.98,162.88 558.38,160.78 559.9,159.3C561.42,157.82 563.22,157.05 564.9,156.6C566.58,156.15 568.32,156.67 570,156.6C571.68,156.53 573.32,156.33 575,156.2C576.68,156.07 578.42,155.73 580.1,155.8C581.78,155.87 583.42,156.13 585.1,156.6C586.78,157.07 588.72,157.92 590.2,158.6C591.68,159.28 592.7,159.97 594,160.7C595.3,161.43 597.33,162.62 598,163" stroke="#0a0a0a" stroke-width="1.7"/>
<path d="M460.5,174.2C461.15,174.25 462.87,173.78 464.4,174.5C465.93,175.22 467.93,176.97 469.7,178.5C471.47,180.03 473.25,182.17 475,183.7C476.75,185.23 478.57,187.37 480.2,187.7C481.83,188.03 483.48,187.13 484.8,185.7C486.12,184.27 487,181.4 488.1,179.1C489.2,176.8 490.32,174.3 491.4,171.9C492.48,169.5 493.4,166.88 494.6,164.7C495.8,162.52 497.28,160.55 498.6,158.8C499.92,157.05 501.18,155.27 502.5,154.2C503.82,153.13 505.83,152.7 506.5,152.4" stroke="#aa1428" stroke-width="1.2"/>
<path d="M460,174C460.52,173.87 461.48,172.88 463.1,173.2C464.72,173.52 467.5,175.13 469.7,175.9C471.9,176.67 474.33,177.58 476.3,177.8C478.27,178.02 479.75,177.97 481.5,177.2C483.25,176.43 485.05,174.95 486.8,173.2C488.55,171.45 490.25,168.88 492,166.7C493.75,164.52 495.55,162.08 497.3,160.1C499.05,158.12 501.22,155.93 502.5,154.8C503.78,153.67 504.58,153.55 505,153.3" stroke="#1f5fd6" stroke-width="1.2" stroke-dasharray="3.8,2.4" stroke-linecap="butt"/>
<path d="M461,175C461.8,175.15 464.13,174.55 465.8,175.9C467.47,177.25 469.25,180.15 471,183.1C472.75,186.05 474.62,191.08 476.3,193.6C477.98,196.12 479.68,197.87 481.1,198.2C482.52,198.53 483.63,197.47 484.8,195.6C485.97,193.73 487,190.07 488.1,187C489.2,183.93 490.2,180.58 491.4,177.2C492.6,173.82 494,169.67 495.3,166.7C496.6,163.73 497.88,161.38 499.2,159.4C500.52,157.42 502.07,155.87 503.2,154.8C504.33,153.73 505.53,153.3 506,153" stroke="#1f5fd6" stroke-width="1.2" stroke-dasharray="3.8,2.4" stroke-linecap="butt"/>
<path d="M353.65,158.95h3.9v3.9h-3.9zM359.55,154.25h3.9v3.9h-3.9zM365.25,151.25h3.9v3.9h-3.9zM370.85,146.15h3.9v3.9h-3.9zM376.35,153.25h3.9v3.9h-3.9zM382.35,158.95h3.9v3.9h-3.9zM388.05,173.35h3.9v3.9h-3.9zM393.45,184.55h3.9v3.9h-3.9zM399.35,187.15h3.9v3.9h-3.9zM405.25,190.45h3.9v3.9h-3.9zM410.65,198.25h3.9v3.9h-3.9zM416.35,203.75h3.9v3.9h-3.9zM421.95,201.15h3.9v3.9h-3.9zM427.85,209.45h3.9v3.9h-3.9zM433.25,227.75h3.9v3.9h-3.9zM439.35,226.65h3.9v3.9h-3.9zM444.35,207.45h3.9v3.9h-3.9zM450.05,185.15h3.9v3.9h-3.9zM456.15,170.85h3.9v3.9h-3.9zM461.75,169.35h3.9v3.9h-3.9zM467.75,174.55h3.9v3.9h-3.9zM473.55,181.65h3.9v3.9h-3.9zM478.85,186.25h3.9v3.9h-3.9zM484.65,181.15h3.9v3.9h-3.9zM490.35,166.65h3.9v3.9h-3.9zM496.15,154.55h3.9v3.9h-3.9zM501.65,150.25h3.9v3.9h-3.9zM507.45,150.45h3.9v3.9h-3.9zM513.05,153.85h3.9v3.9h-3.9zM518.55,162.35h3.9v3.9h-3.9zM524.55,183.65h3.9v3.9h-3.9zM530.25,209.35h3.9v3.9h-3.9zM536.05,224.65h3.9v3.9h-3.9zM541.35,213.55h3.9v3.9h-3.9zM547.35,186.35h3.9v3.9h-3.9zM552.85,164.05h3.9v3.9h-3.9zM558.55,154.25h3.9v3.9h-3.9zM564.35,152.65h3.9v3.9h-3.9zM570.05,154.65h3.9v3.9h-3.9zM575.65,158.35h3.9v3.9h-3.9zM581.15,162.35h3.9v3.9h-3.9zM586.65,162.75h3.9v3.9h-3.9zM591.25,163.35h3.9v3.9h-3.9z" stroke="#333" stroke-width="1.15" fill="none"/>
</g>
<g font-family="Liberation Serif" font-size="13" fill="#aa1428" stroke="#aa1428" stroke-width="0.9"><text transform="translate(371.12,231.8) scale(0.72,1)">I</text><rect x="376.9" y="227.65" width="5.6" height="1.5" stroke-width="0.4"/><text x="384.7" y="231.8">5</text><text x="392.1" y="231.8">3</text></g>
<clipPath id="cp5"><rect x="353" y="249.6" width="241.5" height="109.7"/></clipPath>
<g clip-path="url(#cp5)" fill="none" stroke-linejoin="round" stroke-linecap="round">
<path d="M457.3,291.1C458.1,290.28 460.48,287.82 462.1,286.2C463.72,284.58 465.38,283.02 467,281.4C468.62,279.78 470.18,278.02 471.8,276.5C473.42,274.98 475.08,273.5 476.7,272.3C478.32,271.1 479.88,269.9 481.5,269.3C483.12,268.7 484.78,268.67 486.4,268.7C488.02,268.73 489.58,269.2 491.2,269.5C492.82,269.8 494.48,270.38 496.1,270.5C497.72,270.62 499.37,270.32 500.9,270.2C502.43,270.08 503.95,269.97 505.3,269.8C506.65,269.63 508.38,269.3 509,269.2" stroke="#111" stroke-width="1.35"/>
<path d="M348,269C348.67,268.8 350.48,268.27 352,267.8C353.52,267.33 355.25,266.63 357.1,266.2C358.95,265.77 361.25,265.3 363.1,265.2C364.95,265.1 366.52,265.2 368.2,265.6C369.88,266 371.68,266.67 373.2,267.6C374.72,268.53 376.12,269.75 377.3,271.2C378.48,272.65 379.3,274.28 380.3,276.3C381.3,278.32 382.3,280.68 383.3,283.3C384.3,285.92 385.15,289.17 386.3,292C387.45,294.83 388.97,298.22 390.2,300.3C391.43,302.38 392.37,303.48 393.7,304.5C395.03,305.52 396.72,305.85 398.2,306.4C399.68,306.95 401.28,306.93 402.6,307.8C403.92,308.67 404.92,310.07 406.1,311.6C407.28,313.13 408.52,315.22 409.7,317C410.88,318.78 412.03,320.9 413.2,322.3C414.37,323.7 415.37,324.7 416.7,325.4C418.03,326.1 419.87,326.17 421.2,326.5C422.53,326.83 423.53,326.85 424.7,327.4C425.87,327.95 427.07,328.45 428.2,329.8C429.33,331.15 430.4,333.53 431.5,335.5C432.6,337.47 433.8,340.15 434.8,341.6C435.8,343.05 436.65,343.87 437.5,344.2C438.35,344.53 439.1,344.37 439.9,343.6C440.7,342.83 441.47,341.62 442.3,339.6C443.13,337.58 443.95,335.02 444.9,331.5C445.85,327.98 446.98,322.67 448,318.5C449.02,314.33 450,310.03 451,306.5C452,302.97 452.95,299.87 454,297.3C455.05,294.73 456.15,292.73 457.3,291.1C458.45,289.47 459.48,288.22 460.9,287.5C462.32,286.78 464.18,286.7 465.8,286.8C467.42,286.9 468.98,287.38 470.6,288.1C472.22,288.82 473.88,290.5 475.5,291.1C477.12,291.7 478.68,291.9 480.3,291.7C481.92,291.5 483.78,290.82 485.2,289.9C486.62,288.98 487.6,287.62 488.8,286.2C490,284.78 491.18,283.02 492.4,281.4C493.62,279.78 494.88,277.92 496.1,276.5C497.32,275.08 498.5,273.9 499.7,272.9C500.9,271.9 502.08,271.1 503.3,270.5C504.52,269.9 505.88,269.55 507,269.3C508.12,269.05 508.93,268.98 510,269C511.07,269.02 512.33,268.87 513.4,269.4C514.47,269.93 515.38,270.6 516.4,272.2C517.42,273.8 518.48,276.25 519.5,279C520.52,281.75 521.5,285.07 522.5,288.7C523.5,292.33 524.48,296.58 525.5,300.8C526.52,305.02 527.58,309.53 528.6,314C529.62,318.47 530.6,323.5 531.6,327.6C532.6,331.7 533.67,336.03 534.6,338.6C535.53,341.17 536.42,342.17 537.2,343C537.98,343.83 538.55,344 539.3,343.6C540.05,343.2 540.8,342.92 541.7,340.6C542.6,338.28 543.7,333.88 544.7,329.7C545.7,325.52 546.68,320.32 547.7,315.5C548.72,310.68 549.78,305.52 550.8,300.8C551.82,296.08 552.63,291.45 553.8,287.2C554.97,282.95 556.28,278.07 557.8,275.3C559.32,272.53 561.2,271.55 562.9,270.6C564.6,269.65 566.32,269.73 568,269.6C569.68,269.47 571.33,269.63 573,269.8C574.67,269.97 576.32,270.13 578,270.6C579.68,271.07 581.4,271.72 583.1,272.6C584.8,273.48 586.38,274.62 588.2,275.9C590.02,277.18 592.37,279.12 594,280.3C595.63,281.48 597.33,282.55 598,283" stroke="#0a0a0a" stroke-width="1.7"/>
<path d="M460.9,287.5C461.72,287.38 464.18,286.7 465.8,286.8C467.42,286.9 468.98,287.38 470.6,288.1C472.22,288.82 473.88,290.5 475.5,291.1C477.12,291.7 478.68,291.9 480.3,291.7C481.92,291.5 483.78,290.82 485.2,289.9C486.62,288.98 487.6,287.62 488.8,286.2C490,284.78 491.18,283.02 492.4,281.4C493.62,279.78 494.88,277.92 496.1,276.5C497.32,275.08 498.5,273.9 499.7,272.9C500.9,271.9 502.7,270.9 503.3,270.5" stroke="#aa1428" stroke-width="1.2"/>
<path d="M461,286.5C461.38,286.15 461.9,284.85 463.3,284.4C464.7,283.95 467.37,283.9 469.4,283.8C471.43,283.7 473.48,283.9 475.5,283.8C477.52,283.7 479.68,283.7 481.5,283.2C483.32,282.7 484.78,281.83 486.4,280.8C488.02,279.77 489.58,278.22 491.2,277C492.82,275.78 494.48,274.38 496.1,273.5C497.72,272.62 499.75,272.15 500.9,271.7C502.05,271.25 502.65,270.95 503,270.8" stroke="#1f5fd6" stroke-width="1.2" stroke-dasharray="3.8,2.4" stroke-linecap="butt"/>
<path d="M462,287.5C462.83,287.7 465.37,287.6 467,288.7C468.63,289.8 470.18,292.28 471.8,294.1C473.42,295.92 475.28,298.18 476.7,299.6C478.12,301.02 479.1,302.5 480.3,302.6C481.5,302.7 482.68,301.42 483.9,300.2C485.12,298.98 486.38,297.22 487.6,295.3C488.82,293.38 490,290.92 491.2,288.7C492.4,286.48 493.58,284.13 494.8,282C496.02,279.87 497.28,277.52 498.5,275.9C499.72,274.28 501.18,273.12 502.1,272.3C503.02,271.48 503.68,271.22 504,271" stroke="#1f5fd6" stroke-width="1.2" stroke-dasharray="3.8,2.4" stroke-linecap="butt"/>
<path d="M354.05,277.35h3.9v3.9h-3.9zM359.75,272.25h3.9v3.9h-3.9zM365.25,270.25h3.9v3.9h-3.9zM370.85,269.85h3.9v3.9h-3.9zM377.35,271.25h3.9v3.9h-3.9zM382.75,284.95h3.9v3.9h-3.9zM388.65,298.55h3.9v3.9h-3.9zM394.45,301.15h3.9v3.9h-3.9zM399.75,309.25h3.9v3.9h-3.9zM405.25,312.25h3.9v3.9h-3.9zM411.25,319.25h3.9v3.9h-3.9zM417.05,322.35h3.9v3.9h-3.9zM422.75,320.75h3.9v3.9h-3.9zM428.45,328.55h3.9v3.9h-3.9zM434.45,342.65h3.9v3.9h-3.9zM439.35,337.65h3.9v3.9h-3.9zM444.95,318.75h3.9v3.9h-3.9zM451.05,293.45h3.9v3.9h-3.9zM456.55,287.05h3.9v3.9h-3.9zM462.05,281.95h3.9v3.9h-3.9zM468.65,284.85h3.9v3.9h-3.9zM474.05,289.25h3.9v3.9h-3.9zM479.35,287.85h3.9v3.9h-3.9zM485.45,285.45h3.9v3.9h-3.9zM490.85,279.35h3.9v3.9h-3.9zM496.65,280.25h3.9v3.9h-3.9zM502.15,271.65h3.9v3.9h-3.9zM507.45,271.65h3.9v3.9h-3.9zM513.45,276.35h3.9v3.9h-3.9zM519.15,284.45h3.9v3.9h-3.9zM524.85,309.65h3.9v3.9h-3.9zM530.65,333.25h3.9v3.9h-3.9zM536.35,343.75h3.9v3.9h-3.9zM542.35,334.05h3.9v3.9h-3.9zM547.65,303.25h3.9v3.9h-3.9zM553.45,277.05h3.9v3.9h-3.9zM559.35,265.65h3.9v3.9h-3.9zM564.95,269.85h3.9v3.9h-3.9zM570.45,266.65h3.9v3.9h-3.9zM576.05,270.25h3.9v3.9h-3.9zM581.75,274.35h3.9v3.9h-3.9zM587.65,286.25h3.9v3.9h-3.9z" stroke="#333" stroke-width="1.15" fill="none"/>
</g>
<g font-family="Liberation Serif" font-size="13" fill="#aa1428" stroke="#aa1428" stroke-width="0.9"><text transform="translate(370.72,347.2) scale(0.72,1)">I</text><rect x="376.9" y="343.05" width="5.6" height="1.5" stroke-width="0.4"/><text x="384.7" y="347.2">8</text><text x="392.5" y="347.2">0</text></g>
<path d="M171.2,290.5V327.8M479.4,306V331.7" stroke="#909090" stroke-width="1.1"/>
<text x="160.3" y="343.2" textLength="22" lengthAdjust="spacingAndGlyphs" font-family="Liberation Serif" font-size="11.6" fill="#858585">Pb I</text>
<text x="468.8" y="347.6" textLength="22.3" lengthAdjust="spacingAndGlyphs" font-family="Liberation Serif" font-size="11.6" fill="#858585">Pb I</text>
<text x="39.8" y="37.43" text-anchor="end" textLength="16.9" lengthAdjust="spacingAndGlyphs" font-family="Liberation Serif" font-size="12.4" fill="#111" stroke="#111" stroke-width="0.15">1.0</text>
<text x="39.8" y="105.55" text-anchor="end" textLength="16.9" lengthAdjust="spacingAndGlyphs" font-family="Liberation Serif" font-size="12.4" fill="#111" stroke="#111" stroke-width="0.15">0.5</text>
<text x="39.8" y="152.5" text-anchor="end" textLength="16.9" lengthAdjust="spacingAndGlyphs" font-family="Liberation Serif" font-size="12.4" fill="#111" stroke="#111" stroke-width="0.15">1.0</text>
<text x="39.8" y="221" text-anchor="end" textLength="16.9" lengthAdjust="spacingAndGlyphs" font-family="Liberation Serif" font-size="12.4" fill="#111" stroke="#111" stroke-width="0.15">0.5</text>
<text x="39.8" y="267.61" text-anchor="end" textLength="16.9" lengthAdjust="spacingAndGlyphs" font-family="Liberation Serif" font-size="12.4" fill="#111" stroke="#111" stroke-width="0.15">1.0</text>
<text x="39.8" y="336.18" text-anchor="end" textLength="16.9" lengthAdjust="spacingAndGlyphs" font-family="Liberation Serif" font-size="12.4" fill="#111" stroke="#111" stroke-width="0.15">0.5</text>
<text x="58.74" y="373.7" text-anchor="middle" textLength="38.9" lengthAdjust="spacingAndGlyphs" font-family="Liberation Serif" font-size="11.6" fill="#111" stroke="#111" stroke-width="0.15">4057.0</text>
<text x="129.91" y="373.7" text-anchor="middle" textLength="38.9" lengthAdjust="spacingAndGlyphs" font-family="Liberation Serif" font-size="11.6" fill="#111" stroke="#111" stroke-width="0.15">4057.5</text>
<text x="201.09" y="373.7" text-anchor="middle" textLength="38.9" lengthAdjust="spacingAndGlyphs" font-family="Liberation Serif" font-size="11.6" fill="#111" stroke="#111" stroke-width="0.15">4058.0</text>
<text x="272.26" y="373.7" text-anchor="middle" textLength="38.9" lengthAdjust="spacingAndGlyphs" font-family="Liberation Serif" font-size="11.6" fill="#111" stroke="#111" stroke-width="0.15">4058.5</text>
<g font-family="Liberation Serif" font-size="12.8" fill="#111" stroke="#111" stroke-width="0.45"><text transform="translate(125.1,393.4) scale(0.83,1)" text-anchor="middle">W</text><text transform="translate(132.1,393.4) scale(1.12,1)" text-anchor="middle">a</text><text transform="translate(138.3,393.4) scale(1.12,1)" text-anchor="middle">v</text><text transform="translate(144.8,393.4) scale(1.12,1)" text-anchor="middle">e</text><text transform="translate(151,393.4) scale(1.23,1)" text-anchor="middle">l</text><text transform="translate(157,393.4) scale(1.12,1)" text-anchor="middle">e</text><text transform="translate(163.3,393.4) scale(1.12,1)" text-anchor="middle">n</text><text transform="translate(170.3,393.4) scale(1.12,1)" text-anchor="middle">g</text><text transform="translate(176.7,393.4) scale(1.12,1)" text-anchor="middle">t</text><text transform="translate(183.3,393.4) scale(1.23,1)" text-anchor="middle">h</text><text transform="translate(195.75,393.4) scale(1.12,1)" text-anchor="middle">(</text><text transform="translate(201.75,393.4) scale(1.12,1)" text-anchor="middle">&#197;</text><text transform="translate(207.75,393.4) scale(1.12,1)" text-anchor="middle">)</text></g>
<text x="347.6" y="37.43" text-anchor="end" textLength="16.9" lengthAdjust="spacingAndGlyphs" font-family="Liberation Serif" font-size="12.4" fill="#111" stroke="#111" stroke-width="0.15">1.0</text>
<text x="347.6" y="105.55" text-anchor="end" textLength="16.9" lengthAdjust="spacingAndGlyphs" font-family="Liberation Serif" font-size="12.4" fill="#111" stroke="#111" stroke-width="0.15">0.5</text>
<text x="347.6" y="152.5" text-anchor="end" textLength="16.9" lengthAdjust="spacingAndGlyphs" font-family="Liberation Serif" font-size="12.4" fill="#111" stroke="#111" stroke-width="0.15">1.0</text>
<text x="347.6" y="221" text-anchor="end" textLength="16.9" lengthAdjust="spacingAndGlyphs" font-family="Liberation Serif" font-size="12.4" fill="#111" stroke="#111" stroke-width="0.15">0.5</text>
<text x="347.6" y="267.61" text-anchor="end" textLength="16.9" lengthAdjust="spacingAndGlyphs" font-family="Liberation Serif" font-size="12.4" fill="#111" stroke="#111" stroke-width="0.15">1.0</text>
<text x="347.6" y="336.18" text-anchor="end" textLength="16.9" lengthAdjust="spacingAndGlyphs" font-family="Liberation Serif" font-size="12.4" fill="#111" stroke="#111" stroke-width="0.15">0.5</text>
<text x="367.21" y="373.7" text-anchor="middle" textLength="38.9" lengthAdjust="spacingAndGlyphs" font-family="Liberation Serif" font-size="11.6" fill="#111" stroke="#111" stroke-width="0.15">4057.0</text>
<text x="438.24" y="373.7" text-anchor="middle" textLength="38.9" lengthAdjust="spacingAndGlyphs" font-family="Liberation Serif" font-size="11.6" fill="#111" stroke="#111" stroke-width="0.15">4057.5</text>
<text x="509.26" y="373.7" text-anchor="middle" textLength="38.9" lengthAdjust="spacingAndGlyphs" font-family="Liberation Serif" font-size="11.6" fill="#111" stroke="#111" stroke-width="0.15">4058.0</text>
<text x="580.29" y="373.7" text-anchor="middle" textLength="38.9" lengthAdjust="spacingAndGlyphs" font-family="Liberation Serif" font-size="11.6" fill="#111" stroke="#111" stroke-width="0.15">4058.5</text>
<g font-family="Liberation Serif" font-size="12.8" fill="#111" stroke="#111" stroke-width="0.45"><text transform="translate(434,393.4) scale(0.83,1)" text-anchor="middle">W</text><text transform="translate(441,393.4) scale(1.12,1)" text-anchor="middle">a</text><text transform="translate(447.2,393.4) scale(1.12,1)" text-anchor="middle">v</text><text transform="translate(453.7,393.4) scale(1.12,1)" text-anchor="middle">e</text><text transform="translate(459.9,393.4) scale(1.23,1)" text-anchor="middle">l</text><text transform="translate(465.9,393.4) scale(1.12,1)" text-anchor="middle">e</text><text transform="translate(472.2,393.4) scale(1.12,1)" text-anchor="middle">n</text><text transform="translate(479.2,393.4) scale(1.12,1)" text-anchor="middle">g</text><text transform="translate(485.6,393.4) scale(1.12,1)" text-anchor="middle">t</text><text transform="translate(492.2,393.4) scale(1.23,1)" text-anchor="middle">h</text><text transform="translate(504.65,393.4) scale(1.12,1)" text-anchor="middle">(</text><text transform="translate(510.65,393.4) scale(1.12,1)" text-anchor="middle">&#197;</text><text transform="translate(516.65,393.4) scale(1.12,1)" text-anchor="middle">)</text></g>
<text transform="translate(8.6,189.5) rotate(-90)" text-anchor="middle" textLength="78.2" lengthAdjust="spacingAndGlyphs" font-family="Liberation Serif" font-size="12" fill="#111" stroke="#111" stroke-width="0.2">Relative Flux</text>
<g font-family="Liberation Serif" font-size="13.4" fill="#1f5fd6" stroke="#1f5fd6" stroke-width="0.55"><text transform="translate(126.5,10) scale(1.19,1)" text-anchor="middle">r</text><text transform="translate(135.2,10) scale(0.81,1)" text-anchor="middle">&#8211;</text><text transform="translate(143.8,10) scale(1.08,1)" text-anchor="middle">o</text><text transform="translate(151.2,10) scale(1.08,1)" text-anchor="middle">n</text><text transform="translate(156.6,10) scale(1.19,1)" text-anchor="middle">l</text><text transform="translate(163.5,10) scale(1.08,1)" text-anchor="middle">y</text><text transform="translate(177.9,10) scale(1.24,1)" text-anchor="middle">s</text><text transform="translate(183.5,10) scale(1.08,1)" text-anchor="middle">t</text><text transform="translate(189.6,10) scale(1.08,1)" text-anchor="middle">a</text><text transform="translate(195.7,10) scale(1.19,1)" text-anchor="middle">r</text><text transform="translate(204.5,10) scale(1.24,1)" text-anchor="middle">s</text></g>
<g font-family="Liberation Serif" font-size="13.4" fill="#aa1428" stroke="#aa1428" stroke-width="0.55"><text transform="translate(446.7,11.1) scale(1.19,1)" text-anchor="middle">r</text><text transform="translate(454,11.1) scale(1.08,1)" text-anchor="middle">+</text><text transform="translate(462.2,11.1) scale(1.24,1)" text-anchor="middle">s</text><text transform="translate(476.7,11.1) scale(1.24,1)" text-anchor="middle">s</text><text transform="translate(482.9,11.1) scale(1.08,1)" text-anchor="middle">t</text><text transform="translate(489.9,11.1) scale(1.08,1)" text-anchor="middle">a</text><text transform="translate(496.6,11.1) scale(1.19,1)" text-anchor="middle">r</text><text transform="translate(504.2,11.1) scale(1.24,1)" text-anchor="middle">s</text></g>
</svg></body></html>
